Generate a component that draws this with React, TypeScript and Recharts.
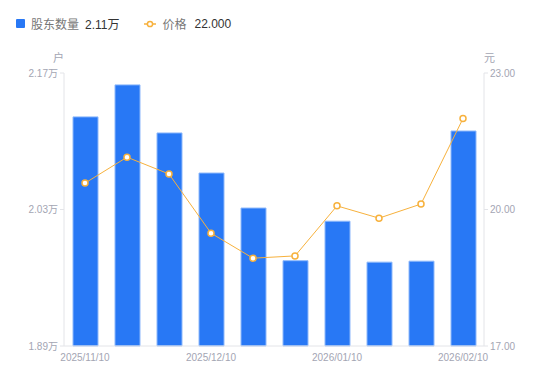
import { ComposedChart, Bar, Line, XAxis, YAxis } from 'recharts'

const dates = [
  '2025/11/10',
  '2025/11/20',
  '2025/11/30',
  '2025/12/10',
  '2025/12/20',
  '2025/12/31',
  '2026/01/10',
  '2026/01/20',
  '2026/01/31',
  '2026/02/10',
]
// 股东户数（户）
const holders = [21250, 21578, 21085, 20674, 20315, 19775, 20180, 19760, 19770, 21105]
// 股价（元）
const prices = [20.58, 21.15, 20.78, 19.48, 18.93, 18.98, 20.08, 19.81, 20.12, 22.0]

const holderTicks = [18900, 20300, 21700]
const priceTicks = [17, 20, 23]

const BLUE = '#2878f5'
const ORANGE = '#f7b13c'
const FONT = '"Liberation Sans", "Noto Sans CJK SC", sans-serif'
const AXIS = '#e3e4e8'
const TICK = '#a3a5b3'

const data = dates.map((d, i) => ({ date: d, holders: holders[i], price: prices[i] }))

export default function App() {
  const lastHolders = (holders[holders.length - 1] / 10000).toFixed(2) + '万'
  const lastPrice = prices[prices.length - 1].toFixed(3)
  return (
    <div style={{ position: 'absolute', left: 0, top: 0, width: 550, height: 381, fontFamily: FONT, background: '#fff' }}>
      <div style={{ position: 'absolute', left: 16, top: 15, display: 'flex', alignItems: 'center', fontSize: 12, whiteSpace: 'nowrap' }}>
        <span style={{ width: 9, height: 9, background: BLUE, borderRadius: 1, display: 'inline-block', marginRight: 6 }} />
        <span style={{ color: '#777' }}>股东数量</span>
        <span style={{ color: '#333', marginLeft: 6 }}>{lastHolders}</span>
        <svg width={12} height={10} style={{ marginLeft: 25, marginRight: 6 }}>
          <line x1={0} y1={5} x2={12} y2={5} stroke={ORANGE} strokeWidth={1.5} />
          <circle cx={6} cy={5} r={2.6} fill="#fff" stroke={ORANGE} strokeWidth={1.5} />
        </svg>
        <span style={{ color: '#777' }}>价格</span>
        <span style={{ color: '#333', marginLeft: 8 }}>{lastPrice}</span>
      </div>
      <div style={{ position: 'absolute', left: 53, top: 49, fontSize: 11, color: TICK }}>户</div>
      <div style={{ position: 'absolute', left: 484, top: 49, fontSize: 11, color: TICK }}>元</div>
      <ComposedChart
        width={550}
        height={381}
        data={data}
        margin={{ top: 73, right: 0, bottom: 0, left: 0 }}
        barSize={25}
      >
        <XAxis
          dataKey="date"
          interval={2}
          tickLine={false}
          axisLine={{ stroke: AXIS }}
          tick={{ fill: TICK, fontSize: 10, fontFamily: FONT }}
          height={35}
        />
        <YAxis
          yAxisId="left"
          orientation="left"
          width={64}
          domain={[18900, 21700]}
          ticks={holderTicks}
          tickFormatter={(v: number) => (v / 10000).toFixed(2) + '万'}
          axisLine={{ stroke: AXIS }}
          tickLine={{ stroke: AXIS }}
          tickSize={4}
          tick={{ fill: TICK, fontSize: 10, fontFamily: FONT }}
        />
        <YAxis
          yAxisId="right"
          orientation="right"
          width={66}
          domain={[17, 23]}
          ticks={priceTicks}
          tickFormatter={(v: number) => v.toFixed(2)}
          axisLine={{ stroke: AXIS }}
          tickLine={{ stroke: AXIS }}
          tickSize={4}
          tick={{ fill: TICK, fontSize: 10, fontFamily: FONT }}
        />
        <Bar
          yAxisId="left"
          dataKey="holders"
          fill={BLUE}
          stroke="#8db8fb"
          strokeWidth={1}
          isAnimationActive={false}
        />
        <Line
          yAxisId="right"
          dataKey="price"
          stroke={ORANGE}
          strokeWidth={1}
          dot={{ r: 3, fill: '#fff', stroke: ORANGE, strokeWidth: 1.5 }}
          activeDot={false}
          isAnimationActive={false}
        />
      </ComposedChart>
    </div>
  )
}
